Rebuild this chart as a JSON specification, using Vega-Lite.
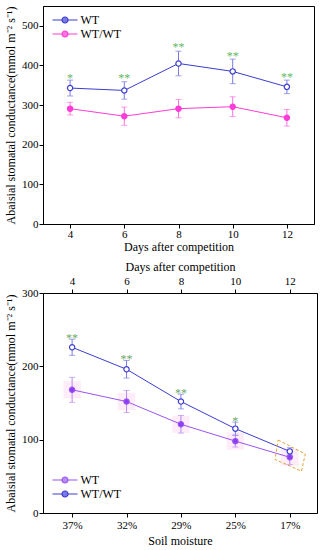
{
  "$schema": "https://vega.github.io/schema/vega-lite/v6.json",
  "padding": {"left": 4, "top": 5, "right": 5, "bottom": 5},
  "spacing": 6,
  "config": {
    "font": "Liberation Serif",
    "view": {"stroke": "black", "strokeWidth": 1},
    "axis": {
      "grid": false, "domainColor": "black", "tickColor": "black", "labelColor": "black", "titleColor": "black",
      "labelFont": "Liberation Serif", "titleFont": "Liberation Serif", "labelFontSize": 11, "titleFontSize": 12,
      "titleFontWeight": "normal", "tickSize": 4, "labelPadding": 2, "domainWidth": 1, "tickWidth": 1
    },
    "legend": {"labelFont": "Liberation Serif", "labelFontSize": 12, "labelColor": "black"}
  },
  "resolve": {"scale": {"x": "independent", "y": "independent", "stroke": "independent", "fill": "independent", "color": "independent"}},
  "vconcat": [
    {
      "width": 271,
      "height": 218,
      "data": {"values": [
        {"series": "WT", "day": 4, "mean": 343, "sd": 20},
        {"series": "WT", "day": 6, "mean": 337, "sd": 22},
        {"series": "WT", "day": 8, "mean": 405, "sd": 31},
        {"series": "WT", "day": 10, "mean": 385, "sd": 31},
        {"series": "WT", "day": 12, "mean": 346, "sd": 17},
        {"series": "WT/WT", "day": 4, "mean": 291, "sd": 16},
        {"series": "WT/WT", "day": 6, "mean": 272, "sd": 23},
        {"series": "WT/WT", "day": 8, "mean": 291, "sd": 23},
        {"series": "WT/WT", "day": 10, "mean": 296, "sd": 25},
        {"series": "WT/WT", "day": 12, "mean": 268, "sd": 21}
      ]},
      "encoding": {
        "x": {"field": "day", "type": "quantitative", "scale": {"domain": [3, 13], "nice": false, "zero": false},
              "axis": {"values": [4, 6, 8, 10, 12], "title": "Days after competition", "labelPadding": 0, "titlePadding": 2}},
        "y": {"field": "mean", "type": "quantitative", "scale": {"domain": [0, 550], "nice": false},
              "axis": {"values": [0, 100, 200, 300, 400, 500], "title": "Abaisial stomatal conductance(mmol m⁻² s⁻¹)", "labelPadding": 1, "titlePadding": 4}}
      },
      "layer": [
        {
          "mark": {"type": "line", "strokeWidth": 1},
          "encoding": {"stroke": {"field": "series", "type": "nominal", "scale": {"domain": ["WT", "WT/WT"], "range": ["#3c3cd0", "#ff3cd6"]}}}
        },
        {
          "mark": {"type": "errorbar", "ticks": {"size": 6}, "thickness": 1},
          "encoding": {
            "yError": {"field": "sd"},
            "color": {"field": "series", "type": "nominal", "scale": {"domain": ["WT", "WT/WT"], "range": ["#7a7ae2", "#ff72e2"]}, "legend": null}
          }
        },
        {
          "mark": {"type": "point", "filled": true, "size": 28, "strokeWidth": 1.2, "opacity": 1},
          "encoding": {
            "stroke": {"field": "series", "type": "nominal", "scale": {"domain": ["WT", "WT/WT"], "range": ["#3c3cd0", "#ff3cd6"]},
              "legend": {"title": null, "orient": "none", "legendX": 16, "legendY": 8, "symbolType": "M-2.5,0L-0.6,0M0.6,0L2.5,0M0.6,0A0.6,0.6,0,1,1,-0.6,0A0.6,0.6,0,1,1,0.6,0", "symbolSize": 100, "labelOffset": 9.5, "symbolStrokeWidth": 1.2, "symbolOpacity": 1, "rowPadding": 2}},
            "fill": {"field": "series", "type": "nominal", "scale": {"domain": ["WT", "WT/WT"], "range": ["white", "#ff3cd6"]}, "legend": null}
          }
        },
        {
          "data": {"values": [
            {"day": 4, "mean": 376, "label": "*"},
            {"day": 6, "mean": 375, "label": "**"},
            {"day": 8, "mean": 453, "label": "**"},
            {"day": 10, "mean": 431, "label": "**"},
            {"day": 12, "mean": 379, "label": "**"}
          ]},
          "mark": {"type": "text", "color": "#5fb85f", "fontSize": 12, "baseline": "middle", "dy": 3},
          "encoding": {"text": {"field": "label"}}
        },
        {
          "data": {"values": [{}]},
          "mark": {"type": "text", "text": "(b)", "align": "right", "baseline": "middle", "fontSize": 12, "color": "black"},
          "encoding": {"x": {"datum": 12.7, "type": "quantitative"}, "y": {"datum": 517, "type": "quantitative"}}
        },
        {
          "data": {"values": [{}]},
          "mark": {"type": "text", "text": "Full irrigation", "align": "right", "baseline": "middle", "fontSize": 12, "color": "black"},
          "encoding": {"x": {"datum": 12.85, "type": "quantitative"}, "y": {"datum": 43, "type": "quantitative"}}
        }
      ]
    },
    {
      "width": 274,
      "height": 220,
      "data": {"values": [
        {"series": "WT", "day": 4, "mean": 168, "sd": 17},
        {"series": "WT", "day": 6, "mean": 152, "sd": 15},
        {"series": "WT", "day": 8, "mean": 121, "sd": 12},
        {"series": "WT", "day": 10, "mean": 98, "sd": 8},
        {"series": "WT", "day": 12, "mean": 76, "sd": 10},
        {"series": "WT/WT", "day": 4, "mean": 226, "sd": 11},
        {"series": "WT/WT", "day": 6, "mean": 196, "sd": 12},
        {"series": "WT/WT", "day": 8, "mean": 152, "sd": 10},
        {"series": "WT/WT", "day": 10, "mean": 115, "sd": 9},
        {"series": "WT/WT", "day": 12, "mean": 84, "sd": 5}
      ]},
      "resolve": {"axis": {"x": "independent"}},
      "layer": [
        {
          "encoding": {
            "x": {"field": "day", "type": "quantitative", "scale": {"domain": [2.93, 13], "nice": false, "zero": false},
                  "axis": {"orient": "bottom", "values": [4, 6, 8, 10, 12], "title": "Soil moisture", "labelPadding": 2, "titlePadding": 5,
                           "labelExpr": "datum.value == 4 ? '37%' : datum.value == 6 ? '32%' : datum.value == 8 ? '29%' : datum.value == 10 ? '25%' : '17%'"}},
            "y": {"field": "mean", "type": "quantitative", "scale": {"domain": [0, 300], "nice": false},
                  "axis": {"values": [0, 50, 100, 150, 200, 250, 300], "title": "Abaisial stomatal conductance(mmol m⁻² s⁻¹)", "labelPadding": 1, "titlePadding": 4}}
          },
          "layer": [
            {
              "transform": [{"filter": "datum.series == 'WT'"}],
              "mark": {"type": "square", "size": 300, "color": "#fde4f7", "opacity": 0.7, "filled": true}
            },
            {
              "mark": {"type": "line", "strokeWidth": 1},
              "encoding": {"stroke": {"field": "series", "type": "nominal", "scale": {"domain": ["WT", "WT/WT"], "range": ["#9a55f2", "#3c3cd0"]}}}
            },
            {
              "mark": {"type": "errorbar", "ticks": {"size": 6}, "thickness": 1},
              "encoding": {
                "yError": {"field": "sd"},
                "color": {"field": "series", "type": "nominal", "scale": {"domain": ["WT", "WT/WT"], "range": ["#b58cf2", "#7a7ae8"]}, "legend": null}
              }
            },
            {
              "mark": {"type": "point", "filled": true, "size": 28, "strokeWidth": 1.2, "opacity": 1},
              "encoding": {
                "stroke": {"field": "series", "type": "nominal", "scale": {"domain": ["WT", "WT/WT"], "range": ["#9a55f2", "#3c3cd0"]},
                  "legend": {"title": null, "orient": "none", "legendX": 16, "legendY": 181, "symbolType": "M-2.5,0L-0.6,0M0.6,0L2.5,0M0.6,0A0.6,0.6,0,1,1,-0.6,0A0.6,0.6,0,1,1,0.6,0", "symbolSize": 100, "labelOffset": 9.5, "symbolStrokeWidth": 1.2, "symbolOpacity": 1, "rowPadding": 2}},
                "fill": {"field": "series", "type": "nominal", "scale": {"domain": ["WT", "WT/WT"], "range": ["#8c3cf5", "white"]}, "legend": null}
              }
            },
            {
              "data": {"values": [
                {"day": 11.57, "mean": 99.5, "o": 1},
                {"day": 12.57, "mean": 80.5, "o": 2},
                {"day": 12.43, "mean": 57, "o": 3},
                {"day": 11.46, "mean": 73, "o": 4},
                {"day": 11.57, "mean": 99.5, "o": 5}
              ]},
              "mark": {"type": "line", "color": "#e3a335", "strokeWidth": 1, "strokeDash": [3, 2]},
              "encoding": {"order": {"field": "o", "type": "quantitative"}}
            },
            {
              "data": {"values": [{}]},
              "mark": {"type": "text", "text": "(c)", "align": "right", "baseline": "middle", "fontSize": 12, "color": "black"},
              "encoding": {"x": {"datum": 12.79, "type": "quantitative"}, "y": {"datum": 282, "type": "quantitative"}}
            },
            {
              "data": {"values": [{}]},
              "mark": {"type": "text", "text": "Deficit irrigation", "align": "right", "baseline": "middle", "fontSize": 12, "color": "black"},
              "encoding": {"x": {"datum": 12.79, "type": "quantitative"}, "y": {"datum": 28.6, "type": "quantitative"}}
            }
          ]
        },
        {
          "data": {"values": [
            {"day": 4, "mean": 243, "label": "**"},
            {"day": 6, "mean": 214, "label": "**"},
            {"day": 8, "mean": 168, "label": "**"},
            {"day": 10, "mean": 130, "label": "*"}
          ]},
          "mark": {"type": "text", "color": "#6fa866", "fontSize": 12, "baseline": "middle", "dy": 3},
          "encoding": {
            "x": {"field": "day", "type": "quantitative", "scale": {"domain": [2.93, 13], "nice": false, "zero": false},
                  "axis": {"orient": "top", "values": [4, 6, 8, 10, 12], "title": "Days after competition", "labelPadding": 3, "titlePadding": 2}},
            "y": {"field": "mean", "type": "quantitative", "scale": {"domain": [0, 300], "nice": false}},
            "text": {"field": "label"}
          }
        }
      ]
    }
  ]
}
